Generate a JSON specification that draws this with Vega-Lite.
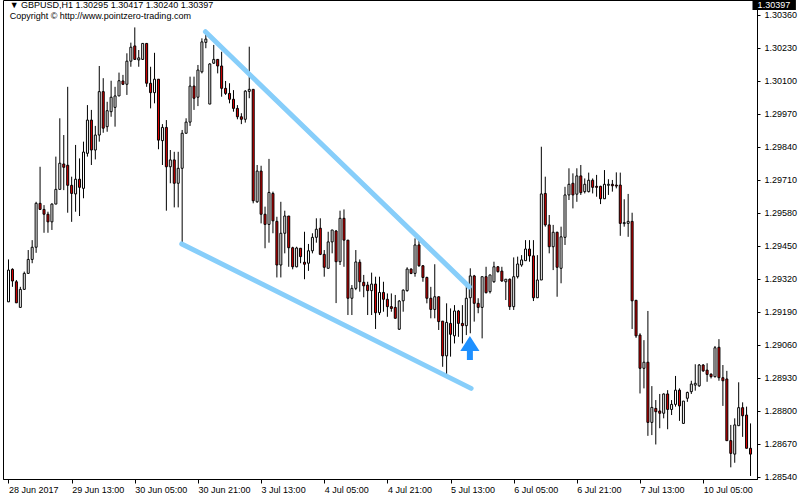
{
  "$schema": "https://vega.github.io/schema/vega-lite/v6.json",
  "width": 754,
  "height": 479,
  "autosize": {"type": "none"},
  "padding": {"left": 3, "top": 0, "right": 43, "bottom": 21},
  "background": "white",
  "config": {
    "view": {"stroke": "black", "strokeWidth": 1},
    "font": "Liberation Sans",
    "axis": {"grid": false, "title": null, "labelFont": "Liberation Sans", "labelFontSize": 9, "labelColor": "black", "domainColor": "black", "tickColor": "black", "labelOverlap": false, "labelFlush": false}
  },
  "datasets": {"bars": [
{"i":0,"o":1.29230,"h":1.29397,"l":1.29229,"c":1.29355},
{"i":1,"o":1.29358,"h":1.29362,"l":1.29289,"c":1.29312},
{"i":2,"o":1.29309,"h":1.29316,"l":1.29226,"c":1.29226},
{"i":3,"o":1.29208,"h":1.29289,"l":1.29208,"c":1.29279},
{"i":4,"o":1.29279,"h":1.29349,"l":1.29279,"c":1.29342},
{"i":5,"o":1.29342,"h":1.29434,"l":1.29342,"c":1.29397},
{"i":6,"o":1.29397,"h":1.29473,"l":1.29382,"c":1.29445},
{"i":7,"o":1.29445,"h":1.29624,"l":1.29423,"c":1.29618},
{"i":8,"o":1.29618,"h":1.29762,"l":1.29592,"c":1.29594},
{"i":9,"o":1.29594,"h":1.29611,"l":1.29502,"c":1.29575},
{"i":10,"o":1.29575,"h":1.29585,"l":1.29502,"c":1.29545},
{"i":11,"o":1.29545,"h":1.29618,"l":1.29513,"c":1.29615},
{"i":12,"o":1.29615,"h":1.29802,"l":1.29615,"c":1.29673},
{"i":13,"o":1.29673,"h":1.29953,"l":1.29673,"c":1.29776},
{"i":14,"o":1.29773,"h":1.29887,"l":1.29670,"c":1.29760},
{"i":15,"o":1.29768,"h":1.30077,"l":1.29581,"c":1.29689},
{"i":16,"o":1.29689,"h":1.29723,"l":1.29545,"c":1.29657},
{"i":17,"o":1.29655,"h":1.29848,"l":1.29585,"c":1.29713},
{"i":18,"o":1.29713,"h":1.29795,"l":1.29568,"c":1.29681},
{"i":19,"o":1.29677,"h":1.29861,"l":1.29638,"c":1.29820},
{"i":20,"o":1.29815,"h":1.30005,"l":1.29802,"c":1.29946},
{"i":21,"o":1.29946,"h":1.29986,"l":1.29769,"c":1.29828},
{"i":22,"o":1.29828,"h":1.29923,"l":1.29791,"c":1.29887},
{"i":23,"o":1.29887,"h":1.30159,"l":1.29861,"c":1.30058},
{"i":24,"o":1.30058,"h":1.30111,"l":1.29896,"c":1.29914},
{"i":25,"o":1.29920,"h":1.30018,"l":1.29900,"c":1.29983},
{"i":26,"o":1.29979,"h":1.30101,"l":1.29959,"c":1.30036},
{"i":27,"o":1.29996,"h":1.30077,"l":1.29920,"c":1.30041},
{"i":28,"o":1.30041,"h":1.30133,"l":1.30041,"c":1.30101},
{"i":29,"o":1.30100,"h":1.30124,"l":1.30084,"c":1.30087},
{"i":30,"o":1.30087,"h":1.30209,"l":1.30045,"c":1.30178},
{"i":31,"o":1.30178,"h":1.30251,"l":1.30156,"c":1.30233},
{"i":32,"o":1.30238,"h":1.30311,"l":1.30183,"c":1.30185},
{"i":33,"o":1.30183,"h":1.30222,"l":1.30156,"c":1.30191},
{"i":34,"o":1.30185,"h":1.30248,"l":1.30183,"c":1.30248},
{"i":35,"o":1.30248,"h":1.30248,"l":1.30077,"c":1.30091},
{"i":36,"o":1.30091,"h":1.30156,"l":1.29992,"c":1.30054},
{"i":37,"o":1.30054,"h":1.30211,"l":1.30012,"c":1.30107},
{"i":38,"o":1.30107,"h":1.30107,"l":1.29831,"c":1.29867},
{"i":39,"o":1.29865,"h":1.29930,"l":1.29769,"c":1.29917},
{"i":40,"o":1.29917,"h":1.29946,"l":1.29589,"c":1.29762},
{"i":41,"o":1.29762,"h":1.29828,"l":1.29697,"c":1.29789},
{"i":42,"o":1.29789,"h":1.29821,"l":1.29602,"c":1.29697},
{"i":43,"o":1.29697,"h":1.29821,"l":1.29602,"c":1.29756},
{"i":44,"o":1.29756,"h":1.29907,"l":1.29460,"c":1.29894},
{"i":45,"o":1.29894,"h":1.29953,"l":1.29894,"c":1.29938},
{"i":46,"o":1.29938,"h":1.30117,"l":1.29923,"c":1.30080},
{"i":47,"o":1.30080,"h":1.30117,"l":1.29986,"c":1.30032},
{"i":48,"o":1.30036,"h":1.30163,"l":1.30001,"c":1.30143},
{"i":49,"o":1.30136,"h":1.30268,"l":1.30130,"c":1.30254},
{"i":50,"o":1.30252,"h":1.30294,"l":1.30229,"c":1.30265},
{"i":51,"o":1.30009,"h":1.30170,"l":1.30009,"c":1.30167},
{"i":52,"o":1.30170,"h":1.30242,"l":1.30167,"c":1.30185},
{"i":53,"o":1.30185,"h":1.30185,"l":1.30130,"c":1.30159},
{"i":54,"o":1.30159,"h":1.30215,"l":1.30038,"c":1.30071},
{"i":55,"o":1.30071,"h":1.30100,"l":1.30045,"c":1.30051},
{"i":56,"o":1.30051,"h":1.30091,"l":1.30012,"c":1.30028},
{"i":57,"o":1.30028,"h":1.30064,"l":1.29979,"c":1.29992},
{"i":58,"o":1.29992,"h":1.30005,"l":1.29949,"c":1.29959},
{"i":59,"o":1.29959,"h":1.29973,"l":1.29930,"c":1.29949},
{"i":60,"o":1.29949,"h":1.30064,"l":1.29936,"c":1.30060},
{"i":61,"o":1.30059,"h":1.30235,"l":1.30032,"c":1.30067},
{"i":62,"o":1.30067,"h":1.30067,"l":1.29618,"c":1.29628},
{"i":63,"o":1.29624,"h":1.29769,"l":1.29620,"c":1.29745},
{"i":64,"o":1.29745,"h":1.29766,"l":1.29539,"c":1.29575},
{"i":65,"o":1.29575,"h":1.29605,"l":1.29441,"c":1.29535},
{"i":66,"o":1.29535,"h":1.29793,"l":1.29463,"c":1.29661},
{"i":67,"o":1.29657,"h":1.29664,"l":1.29500,"c":1.29549},
{"i":68,"o":1.29547,"h":1.29565,"l":1.29326,"c":1.29375},
{"i":69,"o":1.29375,"h":1.29624,"l":1.29326,"c":1.29500},
{"i":70,"o":1.29500,"h":1.29589,"l":1.29421,"c":1.29568},
{"i":71,"o":1.29568,"h":1.29568,"l":1.29368,"c":1.29443},
{"i":72,"o":1.29443,"h":1.29447,"l":1.29358,"c":1.29368},
{"i":73,"o":1.29368,"h":1.29447,"l":1.29366,"c":1.29442},
{"i":74,"o":1.29441,"h":1.29441,"l":1.29382,"c":1.29408},
{"i":75,"o":1.29386,"h":1.29506,"l":1.29319,"c":1.29378},
{"i":76,"o":1.29382,"h":1.29458,"l":1.29352,"c":1.29431},
{"i":77,"o":1.29431,"h":1.29500,"l":1.29421,"c":1.29484},
{"i":78,"o":1.29484,"h":1.29559,"l":1.29463,"c":1.29516},
{"i":79,"o":1.29520,"h":1.29559,"l":1.29414,"c":1.29417},
{"i":80,"o":1.29417,"h":1.29434,"l":1.29329,"c":1.29366},
{"i":81,"o":1.29362,"h":1.29506,"l":1.29362,"c":1.29466},
{"i":82,"o":1.29466,"h":1.29513,"l":1.29421,"c":1.29513},
{"i":83,"o":1.29509,"h":1.29513,"l":1.29225,"c":1.29388},
{"i":84,"o":1.29388,"h":1.29589,"l":1.29375,"c":1.29559},
{"i":85,"o":1.29559,"h":1.29594,"l":1.29368,"c":1.29473},
{"i":86,"o":1.29473,"h":1.29473,"l":1.29178,"c":1.29244},
{"i":87,"o":1.29244,"h":1.29296,"l":1.29178,"c":1.29283},
{"i":88,"o":1.29283,"h":1.29434,"l":1.29276,"c":1.29387},
{"i":89,"o":1.29386,"h":1.29397,"l":1.29270,"c":1.29309},
{"i":90,"o":1.29307,"h":1.29336,"l":1.29248,"c":1.29293},
{"i":91,"o":1.29296,"h":1.29309,"l":1.29178,"c":1.29274},
{"i":92,"o":1.29274,"h":1.29345,"l":1.29178,"c":1.29300},
{"i":93,"o":1.29300,"h":1.29329,"l":1.29123,"c":1.29187},
{"i":94,"o":1.29187,"h":1.29329,"l":1.29178,"c":1.29267},
{"i":95,"o":1.29267,"h":1.29309,"l":1.29191,"c":1.29240},
{"i":96,"o":1.29240,"h":1.29263,"l":1.29171,"c":1.29211},
{"i":97,"o":1.29211,"h":1.29263,"l":1.29191,"c":1.29204},
{"i":98,"o":1.29208,"h":1.29257,"l":1.29165,"c":1.29165},
{"i":99,"o":1.29122,"h":1.29237,"l":1.29119,"c":1.29233},
{"i":100,"o":1.29234,"h":1.29279,"l":1.29191,"c":1.29276},
{"i":101,"o":1.29274,"h":1.29366,"l":1.29270,"c":1.29359},
{"i":102,"o":1.29359,"h":1.29362,"l":1.29339,"c":1.29342},
{"i":103,"o":1.29342,"h":1.29480,"l":1.29329,"c":1.29454},
{"i":104,"o":1.29454,"h":1.29480,"l":1.29368,"c":1.29372},
{"i":105,"o":1.29372,"h":1.29375,"l":1.29309,"c":1.29326},
{"i":106,"o":1.29326,"h":1.29329,"l":1.29224,"c":1.29244},
{"i":107,"o":1.29244,"h":1.29289,"l":1.29165,"c":1.29200},
{"i":108,"o":1.29200,"h":1.29378,"l":1.29165,"c":1.29250},
{"i":109,"o":1.29250,"h":1.29250,"l":1.29119,"c":1.29152},
{"i":110,"o":1.29154,"h":1.29154,"l":1.28974,"c":1.29017},
{"i":111,"o":1.29017,"h":1.29224,"l":1.28935,"c":1.29149},
{"i":112,"o":1.29145,"h":1.29204,"l":1.29014,"c":1.29102},
{"i":113,"o":1.29096,"h":1.29217,"l":1.29066,"c":1.29194},
{"i":114,"o":1.29194,"h":1.29198,"l":1.29092,"c":1.29145},
{"i":115,"o":1.29145,"h":1.29217,"l":1.29066,"c":1.29136},
{"i":116,"o":1.29136,"h":1.29296,"l":1.29099,"c":1.29244},
{"i":117,"o":1.29246,"h":1.29362,"l":1.29106,"c":1.29332},
{"i":118,"o":1.29332,"h":1.29336,"l":1.29152,"c":1.29224},
{"i":119,"o":1.29224,"h":1.29244,"l":1.29185,"c":1.29208},
{"i":120,"o":1.29208,"h":1.29329,"l":1.29086,"c":1.29329},
{"i":121,"o":1.29329,"h":1.29368,"l":1.29263,"c":1.29266},
{"i":122,"o":1.29270,"h":1.29336,"l":1.29263,"c":1.29336},
{"i":123,"o":1.29309,"h":1.29388,"l":1.29305,"c":1.29368},
{"i":124,"o":1.29368,"h":1.29371,"l":1.29345,"c":1.29349},
{"i":125,"o":1.29351,"h":1.29368,"l":1.29309,"c":1.29312},
{"i":126,"o":1.29309,"h":1.29319,"l":1.29237,"c":1.29319},
{"i":127,"o":1.29319,"h":1.29322,"l":1.29198,"c":1.29211},
{"i":128,"o":1.29211,"h":1.29405,"l":1.29198,"c":1.29329},
{"i":129,"o":1.29329,"h":1.29408,"l":1.29322,"c":1.29379},
{"i":130,"o":1.29375,"h":1.29414,"l":1.29368,"c":1.29395},
{"i":131,"o":1.29392,"h":1.29473,"l":1.29392,"c":1.29438},
{"i":132,"o":1.29438,"h":1.29473,"l":1.29388,"c":1.29411},
{"i":133,"o":1.29411,"h":1.29473,"l":1.29233,"c":1.29246},
{"i":134,"o":1.29246,"h":1.29414,"l":1.29246,"c":1.29316},
{"i":135,"o":1.29316,"h":1.29841,"l":1.29316,"c":1.29655},
{"i":136,"o":1.29657,"h":1.29723,"l":1.29526,"c":1.29533},
{"i":137,"o":1.29533,"h":1.29572,"l":1.29421,"c":1.29447},
{"i":138,"o":1.29447,"h":1.29533,"l":1.29355,"c":1.29504},
{"i":139,"o":1.29504,"h":1.29506,"l":1.29250,"c":1.29366},
{"i":140,"o":1.29362,"h":1.29526,"l":1.29303,"c":1.29486},
{"i":141,"o":1.29484,"h":1.29683,"l":1.29454,"c":1.29651},
{"i":142,"o":1.29651,"h":1.29756,"l":1.29631,"c":1.29693},
{"i":143,"o":1.29697,"h":1.29736,"l":1.29598,"c":1.29651},
{"i":144,"o":1.29654,"h":1.29756,"l":1.29624,"c":1.29726},
{"i":145,"o":1.29726,"h":1.29769,"l":1.29651,"c":1.29660},
{"i":146,"o":1.29664,"h":1.29716,"l":1.29657,"c":1.29693},
{"i":147,"o":1.29664,"h":1.29739,"l":1.29661,"c":1.29709},
{"i":148,"o":1.29709,"h":1.29716,"l":1.29657,"c":1.29681},
{"i":149,"o":1.29685,"h":1.29730,"l":1.29644,"c":1.29681},
{"i":150,"o":1.29685,"h":1.29687,"l":1.29615,"c":1.29636},
{"i":151,"o":1.29636,"h":1.29749,"l":1.29635,"c":1.29693},
{"i":152,"o":1.29689,"h":1.29713,"l":1.29651,"c":1.29693},
{"i":153,"o":1.29693,"h":1.29710,"l":1.29664,"c":1.29687},
{"i":154,"o":1.29690,"h":1.29740,"l":1.29677,"c":1.29686},
{"i":155,"o":1.29690,"h":1.29739,"l":1.29490,"c":1.29539},
{"i":156,"o":1.29538,"h":1.29634,"l":1.29526,"c":1.29542},
{"i":157,"o":1.29539,"h":1.29655,"l":1.29486,"c":1.29547},
{"i":158,"o":1.29547,"h":1.29581,"l":1.29123,"c":1.29234},
{"i":159,"o":1.29236,"h":1.29237,"l":1.29088,"c":1.29096},
{"i":160,"o":1.29099,"h":1.29106,"l":1.28869,"c":1.28968},
{"i":161,"o":1.28968,"h":1.29079,"l":1.28889,"c":1.28992},
{"i":162,"o":1.28992,"h":1.29194,"l":1.28702,"c":1.28755},
{"i":163,"o":1.28755,"h":1.28898,"l":1.28705,"c":1.28814},
{"i":164,"o":1.28810,"h":1.28843,"l":1.28668,"c":1.28797},
{"i":165,"o":1.28800,"h":1.28867,"l":1.28732,"c":1.28791},
{"i":166,"o":1.28791,"h":1.28869,"l":1.28771,"c":1.28867},
{"i":167,"o":1.28867,"h":1.28882,"l":1.28728,"c":1.28806},
{"i":168,"o":1.28806,"h":1.28843,"l":1.28784,"c":1.28826},
{"i":169,"o":1.28826,"h":1.28938,"l":1.28817,"c":1.28882},
{"i":170,"o":1.28882,"h":1.28889,"l":1.28761,"c":1.28820},
{"i":171,"o":1.28751,"h":1.28839,"l":1.28751,"c":1.28839},
{"i":172,"o":1.28850,"h":1.28876,"l":1.28836,"c":1.28873},
{"i":173,"o":1.28876,"h":1.28919,"l":1.28867,"c":1.28906},
{"i":174,"o":1.28902,"h":1.28984,"l":1.28880,"c":1.28909},
{"i":175,"o":1.28899,"h":1.28985,"l":1.28895,"c":1.28981},
{"i":176,"o":1.28981,"h":1.28985,"l":1.28954,"c":1.28958},
{"i":177,"o":1.28961,"h":1.28988,"l":1.28915,"c":1.28944},
{"i":178,"o":1.28945,"h":1.28948,"l":1.28928,"c":1.28935},
{"i":179,"o":1.28935,"h":1.29056,"l":1.28932,"c":1.29049},
{"i":180,"o":1.29051,"h":1.29083,"l":1.28919,"c":1.28931},
{"i":181,"o":1.28931,"h":1.28981,"l":1.28820,"c":1.28919},
{"i":182,"o":1.28926,"h":1.28958,"l":1.28683,"c":1.28683},
{"i":183,"o":1.28683,"h":1.28745,"l":1.28578,"c":1.28633},
{"i":184,"o":1.28630,"h":1.28771,"l":1.28596,"c":1.28745},
{"i":185,"o":1.28742,"h":1.28913,"l":1.28742,"c":1.28813},
{"i":186,"o":1.28813,"h":1.28834,"l":1.28698,"c":1.28781},
{"i":187,"o":1.28784,"h":1.28817,"l":1.28653,"c":1.28653},
{"i":188,"o":1.28653,"h":1.28751,"l":1.28544,"c":1.28630}
  ],
  "lines": [
    {"g": "up", "i": 49.9, "p": 1.30294}, {"g": "up", "i": 116.75, "p": 1.29289},
    {"g": "lo", "i": 43.9, "p": 1.29458}, {"g": "lo", "i": 117.2, "p": 1.28889}
  ],
  "notes": [
    {"k": "head", "t": "▼ GBPUSD,H1  1.30295 1.30417 1.30240 1.30397"},
    {"k": "copy", "t": "Copyright © http://www.pointzero-trading.com"},
    {"k": "bid", "t": "1.30397"}
  ]},
  "layer": [
    {"data": {"name": "bars"},
     "mark": {"type": "rule", "color": "black", "strokeWidth": 1, "clip": true},
     "encoding": {
       "x": {"field": "i", "type": "quantitative",
         "scale": {"domain": [-0.125, 188.375], "nice": false, "zero": false},
         "axis": {"orient": "bottom", "values": [0,16,32,48,64,80,96,112,128,144,160,176], "labelExpr": "['28 Jun 2017','29 Jun 13:00','30 Jun 05:00','30 Jun 21:00','3 Jul 13:00','4 Jul 05:00','4 Jul 21:00','5 Jul 13:00','6 Jul 05:00','6 Jul 21:00','7 Jul 13:00','10 Jul 05:00'][round(datum.value/16)]", "labelAlign": "left", "labelBaseline": "top", "tickSize": 4, "labelPadding": 2, "labelFlush": false, "labelOverlap": false}},
       "y": {"field": "l", "type": "quantitative",
         "scale": {"domain": [1.28532, 1.30419], "nice": false, "zero": false},
         "axis": {"orient": "right", "values": [1.2854,1.2867,1.288,1.2893,1.2906,1.2919,1.2932,1.2945,1.2958,1.2971,1.2984,1.2997,1.301,1.3023,1.3036], "format": ".5f", "tickSize": 3, "labelPadding": 4, "labelFlush": false, "labelOverlap": false}},
       "y2": {"field": "h"}}},
    {"data": {"name": "bars"},
     "mark": {"type": "bar", "size": 2, "stroke": "black", "strokeWidth": 1, "clip": true},
     "encoding": {
       "x": {"field": "i", "type": "quantitative",
         "axis": {"orient": "bottom", "values": [0,16,32,48,64,80,96,112,128,144,160,176], "labelExpr": "['28 Jun 2017','29 Jun 13:00','30 Jun 05:00','30 Jun 21:00','3 Jul 13:00','4 Jul 05:00','4 Jul 21:00','5 Jul 13:00','6 Jul 05:00','6 Jul 21:00','7 Jul 13:00','10 Jul 05:00'][round(datum.value/16)]", "labelAlign": "left", "labelBaseline": "top", "tickSize": 4, "labelPadding": 2, "labelFlush": false, "labelOverlap": false}},
       "y": {"field": "o", "type": "quantitative",
         "axis": {"orient": "right", "values": [1.2854,1.2867,1.288,1.2893,1.2906,1.2919,1.2932,1.2945,1.2958,1.2971,1.2984,1.2997,1.301,1.3023,1.3036], "format": ".5f", "tickSize": 3, "labelPadding": 4, "labelFlush": false, "labelOverlap": false}},
       "y2": {"field": "c"},
       "fill": {"condition": {"test": "datum.c < datum.o", "value": "#e00000"}, "value": "#ffffff"}}},
    {"data": {"name": "lines"},
     "mark": {"type": "line", "color": "#87cefa", "strokeWidth": 5, "strokeCap": "round"},
     "encoding": {
       "x": {"field": "i", "type": "quantitative",
         "axis": {"orient": "bottom", "values": [0,16,32,48,64,80,96,112,128,144,160,176], "labelExpr": "['28 Jun 2017','29 Jun 13:00','30 Jun 05:00','30 Jun 21:00','3 Jul 13:00','4 Jul 05:00','4 Jul 21:00','5 Jul 13:00','6 Jul 05:00','6 Jul 21:00','7 Jul 13:00','10 Jul 05:00'][round(datum.value/16)]", "labelAlign": "left", "labelBaseline": "top", "tickSize": 4, "labelPadding": 2, "labelFlush": false, "labelOverlap": false}},
       "y": {"field": "p", "type": "quantitative",
         "axis": {"orient": "right", "values": [1.2854,1.2867,1.288,1.2893,1.2906,1.2919,1.2932,1.2945,1.2958,1.2971,1.2984,1.2997,1.301,1.3023,1.3036], "format": ".5f", "tickSize": 3, "labelPadding": 4, "labelFlush": false, "labelOverlap": false}},
       "detail": {"field": "g"}}},
    {"data": {"values": [{"i": 116.9, "p": 1.29048}]},
     "mark": {"type": "point", "filled": true, "opacity": 1, "color": "#1e90ff", "size": 576,
       "shape": "M0,-1L0.8,0.25L0.25,0.25L0.25,1L-0.25,1L-0.25,0.25L-0.8,0.25Z"},
     "encoding": {
       "x": {"field": "i", "type": "quantitative",
         "axis": {"orient": "bottom", "values": [0,16,32,48,64,80,96,112,128,144,160,176], "labelExpr": "['28 Jun 2017','29 Jun 13:00','30 Jun 05:00','30 Jun 21:00','3 Jul 13:00','4 Jul 05:00','4 Jul 21:00','5 Jul 13:00','6 Jul 05:00','6 Jul 21:00','7 Jul 13:00','10 Jul 05:00'][round(datum.value/16)]", "labelAlign": "left", "labelBaseline": "top", "tickSize": 4, "labelPadding": 2, "labelFlush": false, "labelOverlap": false}},
       "y": {"field": "p", "type": "quantitative",
         "axis": {"orient": "right", "values": [1.2854,1.2867,1.288,1.2893,1.2906,1.2919,1.2932,1.2945,1.2958,1.2971,1.2984,1.2997,1.301,1.3023,1.3036], "format": ".5f", "tickSize": 3, "labelPadding": 4, "labelFlush": false, "labelOverlap": false}}}},
    {"data": {"name": "notes"},
     "transform": [{"filter": "datum.k == 'head'"}],
     "mark": {"type": "text", "align": "left", "baseline": "alphabetic", "fontSize": 9, "color": "black", "font": "Liberation Sans"},
     "encoding": {"text": {"field": "t"},
       "x": {"datum": 0.3, "type": "quantitative",
         "axis": {"orient": "bottom", "values": [0,16,32,48,64,80,96,112,128,144,160,176], "labelExpr": "['28 Jun 2017','29 Jun 13:00','30 Jun 05:00','30 Jun 21:00','3 Jul 13:00','4 Jul 05:00','4 Jul 21:00','5 Jul 13:00','6 Jul 05:00','6 Jul 21:00','7 Jul 13:00','10 Jul 05:00'][round(datum.value/16)]", "labelAlign": "left", "labelBaseline": "top", "tickSize": 4, "labelPadding": 2, "labelFlush": false, "labelOverlap": false}},
       "y": {"datum": 1.30386, "type": "quantitative",
         "axis": {"orient": "right", "values": [1.2854,1.2867,1.288,1.2893,1.2906,1.2919,1.2932,1.2945,1.2958,1.2971,1.2984,1.2997,1.301,1.3023,1.3036], "format": ".5f", "tickSize": 3, "labelPadding": 4, "labelFlush": false, "labelOverlap": false}}}},
    {"data": {"name": "notes"},
     "transform": [{"filter": "datum.k == 'copy'"}],
     "mark": {"type": "text", "align": "left", "baseline": "alphabetic", "fontSize": 9, "color": "black", "font": "Liberation Sans"},
     "encoding": {"text": {"field": "t"},
       "x": {"datum": 0.3, "type": "quantitative",
         "axis": {"orient": "bottom", "values": [0,16,32,48,64,80,96,112,128,144,160,176], "labelExpr": "['28 Jun 2017','29 Jun 13:00','30 Jun 05:00','30 Jun 21:00','3 Jul 13:00','4 Jul 05:00','4 Jul 21:00','5 Jul 13:00','6 Jul 05:00','6 Jul 21:00','7 Jul 13:00','10 Jul 05:00'][round(datum.value/16)]", "labelAlign": "left", "labelBaseline": "top", "tickSize": 4, "labelPadding": 2, "labelFlush": false, "labelOverlap": false}},
       "y": {"datum": 1.30346, "type": "quantitative",
         "axis": {"orient": "right", "values": [1.2854,1.2867,1.288,1.2893,1.2906,1.2919,1.2932,1.2945,1.2958,1.2971,1.2984,1.2997,1.301,1.3023,1.3036], "format": ".5f", "tickSize": 3, "labelPadding": 4, "labelFlush": false, "labelOverlap": false}}}},
    {"data": {"name": "notes"},
     "transform": [{"filter": "datum.k == 'bid'"}],
     "mark": {"type": "rect", "color": "black", "clip": false},
     "encoding": {
       "x": {"datum": 188.5, "type": "quantitative",
         "axis": {"orient": "bottom", "values": [0,16,32,48,64,80,96,112,128,144,160,176], "labelExpr": "['28 Jun 2017','29 Jun 13:00','30 Jun 05:00','30 Jun 21:00','3 Jul 13:00','4 Jul 05:00','4 Jul 21:00','5 Jul 13:00','6 Jul 05:00','6 Jul 21:00','7 Jul 13:00','10 Jul 05:00'][round(datum.value/16)]", "labelAlign": "left", "labelBaseline": "top", "tickSize": 4, "labelPadding": 2, "labelFlush": false, "labelOverlap": false}},
       "x2": {"datum": 199.5},
       "y": {"datum": 1.30425, "type": "quantitative",
         "axis": {"orient": "right", "values": [1.2854,1.2867,1.288,1.2893,1.2906,1.2919,1.2932,1.2945,1.2958,1.2971,1.2984,1.2997,1.301,1.3023,1.3036], "format": ".5f", "tickSize": 3, "labelPadding": 4, "labelFlush": false, "labelOverlap": false}},
       "y2": {"datum": 1.30380}}},
    {"data": {"name": "notes"},
     "transform": [{"filter": "datum.k == 'bid'"}],
     "mark": {"type": "text", "align": "left", "baseline": "middle", "fontSize": 9, "color": "white", "font": "Liberation Sans", "clip": false},
     "encoding": {"text": {"field": "t"},
       "x": {"datum": 189.8, "type": "quantitative",
         "axis": {"orient": "bottom", "values": [0,16,32,48,64,80,96,112,128,144,160,176], "labelExpr": "['28 Jun 2017','29 Jun 13:00','30 Jun 05:00','30 Jun 21:00','3 Jul 13:00','4 Jul 05:00','4 Jul 21:00','5 Jul 13:00','6 Jul 05:00','6 Jul 21:00','7 Jul 13:00','10 Jul 05:00'][round(datum.value/16)]", "labelAlign": "left", "labelBaseline": "top", "tickSize": 4, "labelPadding": 2, "labelFlush": false, "labelOverlap": false}},
       "y": {"datum": 1.30400, "type": "quantitative",
         "axis": {"orient": "right", "values": [1.2854,1.2867,1.288,1.2893,1.2906,1.2919,1.2932,1.2945,1.2958,1.2971,1.2984,1.2997,1.301,1.3023,1.3036], "format": ".5f", "tickSize": 3, "labelPadding": 4, "labelFlush": false, "labelOverlap": false}}}}
  ]
}
